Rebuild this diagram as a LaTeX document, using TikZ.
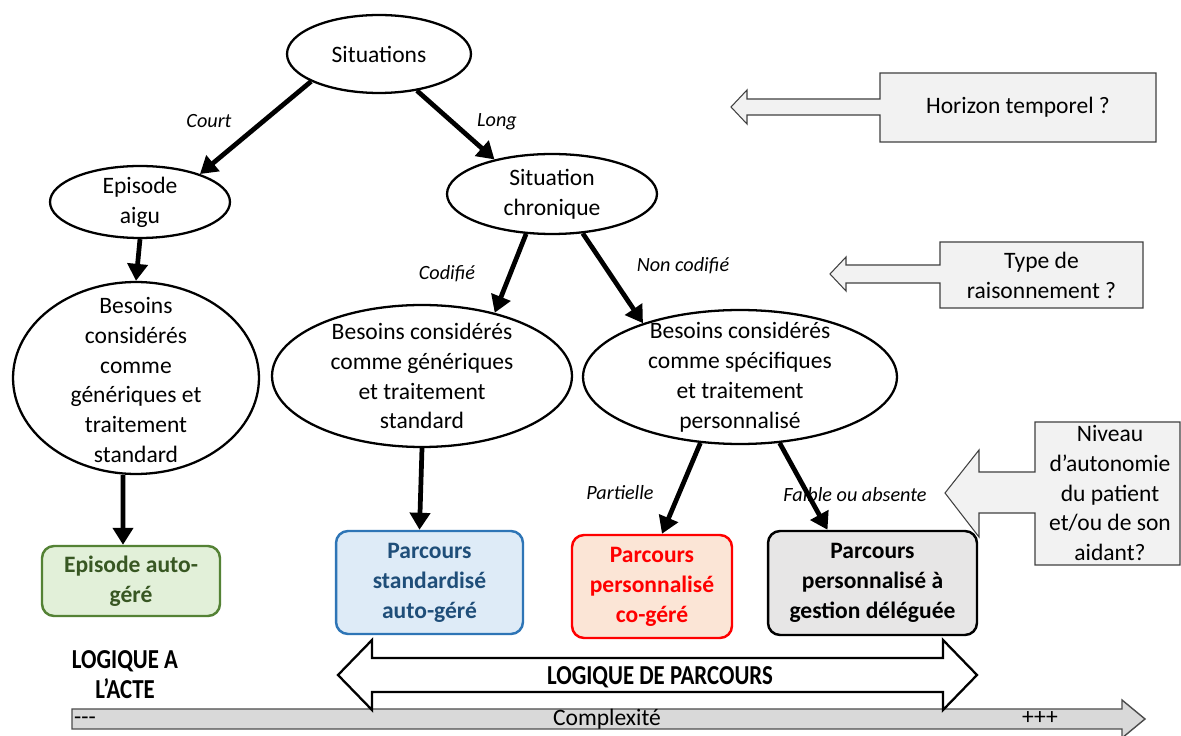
\documentclass[tikz,border=0pt]{standalone}
\usepackage{fontspec}
\setmainfont{Carlito}
\usetikzlibrary{arrows.meta,shapes.geometric,calc}
\definecolor{gbord}{HTML}{548235}
\definecolor{gfill}{HTML}{E2F0D9}
\definecolor{gtext}{HTML}{385723}
\definecolor{bbord}{HTML}{2E75B6}
\definecolor{bfill}{HTML}{DEEBF7}
\definecolor{btext}{HTML}{1F4E79}
\definecolor{rbord}{HTML}{FF0000}
\definecolor{rfill}{HTML}{FBE5D6}
\definecolor{kfill}{HTML}{E7E6E6}
\definecolor{calfill}{HTML}{F2F2F2}
\definecolor{barfill}{HTML}{D9D9D9}
\begin{document}
\begin{tikzpicture}[x=0.02cm,y=-0.02cm,
  txt/.style={font=\fontsize{13.4}{17}\selectfont, align=center, inner sep=0pt},
  ell/.style={ellipse, draw, line width=1.3pt, inner sep=0pt},
  lbl/.style={font=\fontsize{11.5}{14}\selectfont\itshape, inner sep=0pt},
  bigarrow/.style={line width=2.7pt, -{Triangle[length=0.34cm,width=0.4cm]}},
  pbox/.style={rectangle, rounded corners=0.24cm, line width=1.4pt, font=\fontsize{13.4}{17}\selectfont\bfseries, align=center, inner sep=0pt},
  callout/.style={fill=calfill, draw=black!75, line width=0.6pt},
  logic/.style={font=\fontsize{13}{17}\selectfont\bfseries, align=center, inner sep=0pt},
]
\useasboundingbox (0,0) rectangle (1181,736);
\fill[white] (0,0) rectangle (1181,736);

% ellipses
\node[ell, minimum width=3.68cm, minimum height=1.56cm,
  label={[txt]center:Situations}] (sit) at (379,54) {};
\node[ell, minimum width=3.6cm, minimum height=1.44cm,
  label={[txt]center:Episode\\aigu}] (epi) at (140,202) {};
\node[ell, minimum width=4.2cm, minimum height=1.6cm,
  label={[txt]center:Situation\\chronique}] (chron) at (552,194) {};
\node[ell, minimum width=4.92cm, minimum height=3.84cm,
  label={[txt,yshift=-0.04cm]center:Besoins\\considérés\\comme\\génériques et\\traitement\\standard}] (big1) at (136,378) {};
\node[ell, minimum width=6.0cm, minimum height=2.84cm,
  label={[txt]center:Besoins considérés\\comme génériques\\et traitement\\standard}] (mid) at (422,376) {};
\node[ell, minimum width=6.28cm, minimum height=2.68cm,
  label={[txt]center:Besoins considérés\\comme spécifiques\\et traitement\\personnalisé}] (right) at (740,377) {};

% boxes
\node[pbox, draw=gbord, fill=gfill, text=gtext, minimum width=3.56cm, minimum height=1.4cm] (box1) at (131,581) {Episode auto-\\géré};
\node[pbox, draw=bbord, fill=bfill, text=btext, minimum width=3.74cm, minimum height=2.06cm] (box2) at (429.5,582.5) {Parcours\\standardisé\\auto-géré};
\node[pbox, draw=rbord, fill=rfill, text=rbord, minimum width=3.2cm, minimum height=2.06cm] (box3) at (652,586.5) {Parcours\\personnalisé\\co-géré};
\node[pbox, draw=black, fill=kfill, text=black, minimum width=4.18cm, minimum height=2.08cm] (box4) at (872.5,583) {Parcours\\personnalisé à\\gestion déléguée};

% labels
\node[lbl] (lcourt) at (209,121) {Court};
\node[lbl] (llong) at (497,122) {Long};
\node[lbl] (lcod) at (447,274) {Codifié};
\node[lbl] (lnc) at (683,266) {Non codifié};
\node[lbl] (lpart) at (620,493) {Partielle};
\node[lbl] (lfaib) at (855,495) {Faible ou absente};

% arrows
\draw[bigarrow] (sit.202) -- (epi.25);
\draw[bigarrow] (sit.316) -- (chron.149);
\draw[bigarrow] (epi.south) -- (big1.north);
\draw[bigarrow] ([xshift=-0.26cm]big1.south) -- ([xshift=-0.16cm]box1.north);
\draw[bigarrow] (chron.237) -- (mid.41);
\draw[bigarrow] (chron.308) -- (right.151);
\draw[bigarrow] (mid.south) -- ([xshift=-0.2cm]box2.north);
\draw[bigarrow] (right.239) -- ([xshift=0.2cm]box3.north);
\draw[bigarrow] (right.301) -- ([xshift=-0.9cm]box4.north);

% callouts
\draw[callout] (880,73) -- (1156,73) -- (1156,142) -- (880,142) -- (880,115) -- (747,115) -- (747,124) -- (731,107) -- (747,90) -- (747,99) -- (880,99) -- cycle;
\node[txt] (hz) at (1018,107) {Horizon temporel ?};
\draw[callout] (940,242) -- (1143,242) -- (1143,308) -- (940,308) -- (940,283) -- (846,283) -- (846,291) -- (830,274) -- (846,257) -- (846,265) -- (940,265) -- cycle;
\node[txt] (tr) at (1041.5,275) {Type de\\raisonnement ?};
\draw[callout] (1035,422) -- (1180,422) -- (1180,565) -- (1035,565) -- (1035,513) -- (979,513) -- (979,537) -- (945,493) -- (979,450) -- (979,472) -- (1035,472) -- cycle;
\node[txt, font=\fontsize{13.4}{16.8}\selectfont] (na) at (1110,493) {Niveau\\d’autonomie\\du patient\\et/ou de son\\aidant?};

% complexity bar
\draw[fill=barfill, draw=black!70, line width=0.8pt] (72,709) -- (1122,709) -- (1122,700) -- (1145,719) -- (1122,738) -- (1122,729) -- (72,729) -- cycle;
\node[txt] (cx) at (607,719) {Complexité};
\node[txt] (cmin) at (85,719) {\vphantom{Cp}-{}-{}-};
\node[txt] (cmax) at (1040,719) {\vphantom{Cp}+++};

% double arrow
\draw[fill=white, draw=black, line width=1.3pt] (338,675) -- (372,640) -- (372,658) -- (943,658) -- (943,640) -- (977,675) -- (943,710) -- (943,692) -- (372,692) -- (372,710) -- cycle;
\node[logic] (lp) at (660,677) {\scalebox{1}[1.2]{LOGIQUE DE PARCOURS}};
\node[logic] (la) at (125,675) {\scalebox{1}[1.2]{LOGIQUE A}\\\scalebox{1}[1.2]{L’ACTE}};
\end{tikzpicture}
\end{document}
